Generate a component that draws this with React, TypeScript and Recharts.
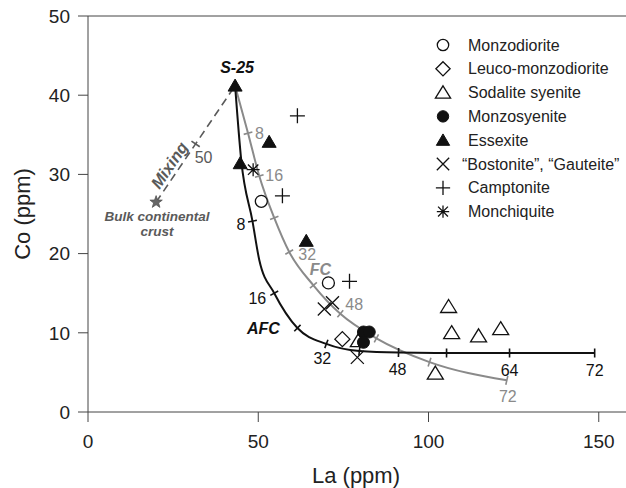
import React from 'react';
import { ComposedChart, XAxis, YAxis, Line, Scatter, ReferenceLine, Label } from 'recharts';

// ---------- chart geometry ----------
const W = 626;
const H = 488;
const PLOT = { left: 88, top: 16, right: 626, bottom: 412 };
const X_DOMAIN: [number, number] = [0, 158];
const Y_DOMAIN: [number, number] = [0, 50];
const KX = (PLOT.right - PLOT.left) / (X_DOMAIN[1] - X_DOMAIN[0]);
const KY = (PLOT.bottom - PLOT.top) / (Y_DOMAIN[1] - Y_DOMAIN[0]);

// ---------- data ----------
const xTicks = [0, 50, 100, 150];
const yTicks = [0, 10, 20, 30, 40, 50];

const parentS25 = [{ x: 43.2, y: 41.2 }];
const bulkCrust = [{ x: 20, y: 26.5 }];

// FC model curve (f = % crystallized)
const fcCurve = [
  { x: 43.2, y: 41.2, f: 0 },
  { x: 47.0, y: 35.2, f: 8 },
  { x: 50.3, y: 29.8, f: 16 },
  { x: 54.7, y: 24.5, f: 24 },
  { x: 59.1, y: 20.2, f: 32 },
  { x: 66.2, y: 16.0, f: 40 },
  { x: 74.1, y: 12.4, f: 48 },
  { x: 84.7, y: 9.3, f: 56 },
  { x: 100.3, y: 6.3, f: 64 },
  { x: 123.0, y: 4.0, f: 72 },
];

// AFC model curve
const afcCurve = [
  { x: 43.2, y: 41.2, f: 0 },
  { x: 45.0, y: 31.8 },
  { x: 48.3, y: 24.1, f: 8 },
  { x: 50.3, y: 19.2 },
  { x: 54.7, y: 15.0, f: 16 },
  { x: 61.5, y: 10.6, f: 24 },
  { x: 70.0, y: 8.6, f: 32 },
  { x: 79.7, y: 7.7, f: 40 },
  { x: 91.2, y: 7.5, f: 48 },
  { x: 105.3, y: 7.45, f: 56 },
  { x: 123.8, y: 7.45, f: 64 },
  { x: 148.8, y: 7.45, f: 72 },
];

// Mixing line
const mixingLine = [
  { x: 20, y: 26.5, f: 0 },
  { x: 31.6, y: 33.85, f: 50 },
  { x: 43.2, y: 41.2, f: 100 },
];

const fcLabelled = [8, 16, 32, 48, 72];
const afcLabelled = [8, 16, 32, 48, 64, 72];
const mixLabelled = [50];

const monzodiorite = [{ x: 50.9, y: 26.6 }, { x: 70.6, y: 16.3 }];
const leucoMonzodiorite = [{ x: 74.7, y: 9.2 }];
const sodaliteSyenite = [
  { x: 105.9, y: 13.3 },
  { x: 106.8, y: 10.0 },
  { x: 114.7, y: 9.6 },
  { x: 121.2, y: 10.5 },
  { x: 102.0, y: 4.9 },
  { x: 79.4, y: 9.0 },
];
const monzosyenite = [{ x: 80.9, y: 10.1 }, { x: 82.6, y: 10.1 }, { x: 80.9, y: 8.8 }];
const essexite = [{ x: 43.2, y: 41.2 }, { x: 53.2, y: 34.1 }, { x: 44.7, y: 31.4 }, { x: 64.1, y: 21.6 }];
const bostonite = [{ x: 71.8, y: 13.8 }, { x: 69.4, y: 13.0 }, { x: 79.1, y: 6.9 }];
const camptonite = [{ x: 61.5, y: 37.4 }, { x: 57.1, y: 27.3 }, { x: 76.8, y: 16.5 }];
const monchiquite = [{ x: 48.5, y: 30.6 }];

const legendNames = [
  'Monzodiorite',
  'Leuco-monzodiorite',
  'Sodalite syenite',
  'Monzosyenite',
  'Essexite',
  '\u201CBostonite\u201D, \u201CGauteite\u201D',
  'Camptonite',
  'Monchiquite',
];

// ---------- styles ----------
const FONT = '"Liberation Sans", Arial, Helvetica, sans-serif';
const INK = '#111';
const AXIS = '#444';
const GRAY = '#8a8a8a';
const DARKGRAY = '#5a5a5a';

// ---------- symbols ----------
type SymKind = 'openCircle' | 'openDiamond' | 'openTriangle' | 'filledCircle' | 'filledTriangle' | 'cross' | 'plus' | 'asterisk' | 'star';

function Symbol({ kind, cx, cy, s = 1 }: { kind: SymKind; cx: number; cy: number; s?: number }) {
  const sw = 1.3;
  switch (kind) {
    case 'openCircle':
      return <circle cx={cx} cy={cy} r={6 * s} fill="#fff" stroke={INK} strokeWidth={sw} />;
    case 'filledCircle':
      return <circle cx={cx} cy={cy} r={6 * s} fill={INK} stroke={INK} strokeWidth={1} />;
    case 'openDiamond': {
      const r = 7.5 * s;
      return <path d={`M${cx},${cy - r}L${cx + r},${cy}L${cx},${cy + r}L${cx - r},${cy}Z`} fill="#fff" stroke={INK} strokeWidth={sw} />;
    }
    case 'openTriangle': {
      const w = 8 * s, h = 13 * s;
      return <path d={`M${cx},${cy - h * 0.55}L${cx + w},${cy + h * 0.45}L${cx - w},${cy + h * 0.45}Z`} fill="#fff" stroke={INK} strokeWidth={sw} />;
    }
    case 'filledTriangle': {
      const w = 7 * s, h = 12 * s;
      return <path d={`M${cx},${cy - h * 0.55}L${cx + w},${cy + h * 0.45}L${cx - w},${cy + h * 0.45}Z`} fill={INK} stroke={INK} strokeWidth={1} />;
    }
    case 'cross': {
      const r = 6.5 * s;
      return <path d={`M${cx - r},${cy - r}L${cx + r},${cy + r}M${cx - r},${cy + r}L${cx + r},${cy - r}`} stroke={INK} strokeWidth={sw} fill="none" />;
    }
    case 'plus': {
      const r = 7.5 * s;
      return <path d={`M${cx - r},${cy}L${cx + r},${cy}M${cx},${cy - r}L${cx},${cy + r}`} stroke={INK} strokeWidth={sw} fill="none" />;
    }
    case 'asterisk': {
      const r = 6.5 * s;
      const d = r * 0.8;
      return (
        <path
          d={`M${cx - r},${cy}L${cx + r},${cy}M${cx},${cy - r}L${cx},${cy + r}M${cx - d},${cy - d}L${cx + d},${cy + d}M${cx - d},${cy + d}L${cx + d},${cy - d}`}
          stroke={INK}
          strokeWidth={sw}
          fill="none"
        />
      );
    }
    case 'star': {
      const ro = 6.5 * s, ri = 2.6 * s;
      let d = '';
      for (let i = 0; i < 10; i++) {
        const r = i % 2 === 0 ? ro : ri;
        const a = -Math.PI / 2 + (i * Math.PI) / 5;
        d += `${i === 0 ? 'M' : 'L'}${cx + r * Math.cos(a)},${cy + r * Math.sin(a)}`;
      }
      return <path d={d + 'Z'} fill="#666" stroke="#555" strokeWidth={0.8} />;
    }
  }
  return null;
}

const legendKinds: SymKind[] = ['openCircle', 'openDiamond', 'openTriangle', 'filledCircle', 'filledTriangle', 'cross', 'plus', 'asterisk'];

const symShape = (kind: SymKind) => (props: any) => <Symbol kind={kind} cx={props.cx} cy={props.cy} />;

// perpendicular tick on a curve
function tickShape(curve: any[], color: string, half = 4.5) {
  return (props: any) => {
    const { cx, cy, payload } = props;
    const i = curve.findIndex((p) => p.x === payload.x && p.y === payload.y);
    const prev = curve[Math.max(0, i - 1)];
    const next = curve[Math.min(curve.length - 1, i + 1)];
    let dx = (next.x - prev.x) * KX;
    let dy = -(next.y - prev.y) * KY;
    const len = Math.hypot(dx, dy) || 1;
    dx /= len;
    dy /= len;
    return <line x1={cx - dy * half} y1={cy + dx * half} x2={cx + dy * half} y2={cy - dx * half} stroke={color} strokeWidth={1.6} />;
  };
}

// label near a tick
type Off = { dx: number; dy: number; anchor: 'start' | 'middle' | 'end' };
function tickLabelShape(color: string, offsets: Record<number, Off>) {
  return (props: any) => {
    const { cx, cy, payload } = props;
    const o = offsets[payload.f] || { dx: 0, dy: 0, anchor: 'middle' };
    return (
      <text x={cx + o.dx} y={cy + o.dy} textAnchor={o.anchor} dominantBaseline="central" fontFamily={FONT} fontSize={16} fill={color}>
        {payload.f}
      </text>
    );
  };
}

const fcOffsets: Record<number, Off> = {
  8: { dx: 7, dy: 0, anchor: 'start' },
  16: { dx: 6, dy: 0, anchor: 'start' },
  32: { dx: 9, dy: 2, anchor: 'start' },
  48: { dx: 5, dy: -9, anchor: 'start' },
  72: { dx: 1, dy: 16, anchor: 'middle' },
};
const afcOffsets: Record<number, Off> = {
  8: { dx: -7, dy: 3, anchor: 'end' },
  16: { dx: -8, dy: 5, anchor: 'end' },
  32: { dx: -4, dy: 15, anchor: 'middle' },
  48: { dx: -1, dy: 17, anchor: 'middle' },
  64: { dx: 0, dy: 18, anchor: 'middle' },
  72: { dx: 0, dy: 18, anchor: 'middle' },
};
const mixOffsets: Record<number, Off> = {
  50: { dx: 8, dy: 14, anchor: 'middle' },
};

const textShape = (render: (cx: number, cy: number) => React.ReactElement) => (props: any) => render(props.cx, props.cy);

const fcTicks = fcCurve.filter((p) => p.f);
const afcTicks = afcCurve.filter((p) => p.f);
const mixTicks = mixingLine.filter((p) => p.f === 50);

export default function App() {
  const axisTick = { fontSize: 19, fill: '#222', fontFamily: FONT };
  const mixAngle = (Math.atan2(-(parentS25[0].y - bulkCrust[0].y) * KY, (parentS25[0].x - bulkCrust[0].x) * KX) * 180) / Math.PI;
  return (
    <div style={{ position: 'absolute', left: 0, top: 0, width: W, height: H, background: '#fff' }}>
      <ComposedChart width={W} height={H} margin={{ top: PLOT.top, right: W - PLOT.right, bottom: 0, left: 0 }}>
        <XAxis
          type="number"
          dataKey="x"
          domain={X_DOMAIN}
          ticks={xTicks}
          allowDataOverflow
          height={H - PLOT.bottom}
          tickSize={10}
          tickMargin={13}
          tick={axisTick}
          stroke={AXIS}
          tickLine={{ stroke: AXIS }}
          axisLine={{ stroke: AXIS }}
        >
          <Label
            content={() => (
              <text x={356} y={483} textAnchor="middle" fontFamily={FONT} fontSize={22} fill="#222">
                La (ppm)
              </text>
            )}
          />
        </XAxis>
        <YAxis
          type="number"
          dataKey="y"
          domain={Y_DOMAIN}
          ticks={yTicks}
          allowDataOverflow
          width={PLOT.left}
          tickSize={10}
          tickMargin={8}
          tick={axisTick}
          stroke={AXIS}
          tickLine={{ stroke: AXIS }}
          axisLine={{ stroke: AXIS }}
        >
          <Label
            content={() => (
              <text x={22} y={214} transform="rotate(-90 22 214)" textAnchor="middle" dominantBaseline="central" fontFamily={FONT} fontSize={22} fill="#222">
                Co (ppm)
              </text>
            )}
          />
        </YAxis>
        <ReferenceLine y={50} stroke={AXIS} strokeWidth={1} ifOverflow="visible" />

        <Line data={mixingLine} dataKey="y" type="linear" stroke={DARKGRAY} strokeWidth={1.6} strokeDasharray="8 5" dot={false} activeDot={false} isAnimationActive={false} />
        <Line data={fcCurve} dataKey="y" type="monotone" stroke={GRAY} strokeWidth={2} dot={false} activeDot={false} isAnimationActive={false} />
        <Line data={afcCurve} dataKey="y" type="monotone" stroke={INK} strokeWidth={2} dot={false} activeDot={false} isAnimationActive={false} />

        <Scatter data={mixTicks} shape={tickShape(mixingLine, DARKGRAY, 5)} isAnimationActive={false} />
        <Scatter data={fcTicks} shape={tickShape(fcCurve, GRAY)} isAnimationActive={false} />
        <Scatter data={afcTicks} shape={tickShape(afcCurve, INK)} isAnimationActive={false} />

        <Scatter data={mixTicks.filter((p) => mixLabelled.includes(p.f))} shape={tickLabelShape(DARKGRAY, mixOffsets)} isAnimationActive={false} />
        <Scatter data={fcTicks.filter((p) => fcLabelled.includes(p.f as number))} shape={tickLabelShape(GRAY, fcOffsets)} isAnimationActive={false} />
        <Scatter data={afcTicks.filter((p) => afcLabelled.includes(p.f as number))} shape={tickLabelShape(INK, afcOffsets)} isAnimationActive={false} />

        {/* curve names */}
        <Scatter
          data={fcCurve.filter((p) => p.f === 40)}
          shape={textShape((cx, cy) => (
            <text x={cx + 7} y={cy - 16} textAnchor="middle" dominantBaseline="central" fontFamily={FONT} fontSize={16} fontWeight="bold" fontStyle="italic" fill={GRAY}>
              FC
            </text>
          ))}
          isAnimationActive={false}
        />
        <Scatter
          data={afcCurve.filter((p) => p.f === 24)}
          shape={textShape((cx, cy) => (
            <text x={cx - 34} y={cy} textAnchor="middle" dominantBaseline="central" fontFamily={FONT} fontSize={16} fontWeight="bold" fontStyle="italic" fill={INK}>
              AFC
            </text>
          ))}
          isAnimationActive={false}
        />
        <Scatter
          data={bulkCrust}
          shape={textShape((cx, cy) => (
            <g>
              <text x={cx + 13} y={cy - 37} transform={`rotate(${mixAngle} ${cx + 13} ${cy - 37})`} textAnchor="middle" dominantBaseline="central" fontFamily={FONT} fontSize={16.5} fontWeight="bold" fontStyle="italic" fill={DARKGRAY}>
                Mixing
              </text>
              <text x={cx + 1} y={cy + 19} textAnchor="middle" fontFamily={FONT} fontSize={13.5} fontWeight="bold" fontStyle="italic" fill={DARKGRAY}>
                Bulk continental
              </text>
              <text x={cx + 1} y={cy + 34} textAnchor="middle" fontFamily={FONT} fontSize={13.5} fontWeight="bold" fontStyle="italic" fill={DARKGRAY}>
                crust
              </text>
              <Symbol kind="star" cx={cx} cy={cy} />
            </g>
          ))}
          isAnimationActive={false}
        />

        {/* samples */}
        <Scatter data={monzodiorite} shape={symShape('openCircle')} isAnimationActive={false} />
        <Scatter data={leucoMonzodiorite} shape={symShape('openDiamond')} isAnimationActive={false} />
        <Scatter data={sodaliteSyenite} shape={symShape('openTriangle')} isAnimationActive={false} />
        <Scatter data={monzosyenite} shape={symShape('filledCircle')} isAnimationActive={false} />
        <Scatter data={essexite} shape={symShape('filledTriangle')} isAnimationActive={false} />
        <Scatter data={bostonite} shape={symShape('cross')} isAnimationActive={false} />
        <Scatter data={camptonite} shape={symShape('plus')} isAnimationActive={false} />
        <Scatter data={monchiquite} shape={symShape('asterisk')} isAnimationActive={false} />

        <Scatter
          data={parentS25}
          shape={textShape((cx, cy) => (
            <text x={cx + 2} y={cy - 18} textAnchor="middle" dominantBaseline="central" fontFamily={FONT} fontSize={16} fontWeight="bold" fontStyle="italic" fill={INK}>
              S-25
            </text>
          ))}
          isAnimationActive={false}
        />
      </ComposedChart>

      {/* legend */}
      <svg width={W} height={H} style={{ position: 'absolute', left: 0, top: 0, pointerEvents: 'none' }}>
        {legendNames.map((name, i) => {
          const cy = 45 + i * 23.8;
          return (
            <g key={name}>
              <Symbol kind={legendKinds[i]} cx={443} cy={cy} s={0.95} />
              <text x={i === 5 ? 462 : 468} y={cy} dominantBaseline="central" fontFamily={FONT} fontSize={16} fill="#222">
                {name}
              </text>
            </g>
          );
        })}
      </svg>
    </div>
  );
}
